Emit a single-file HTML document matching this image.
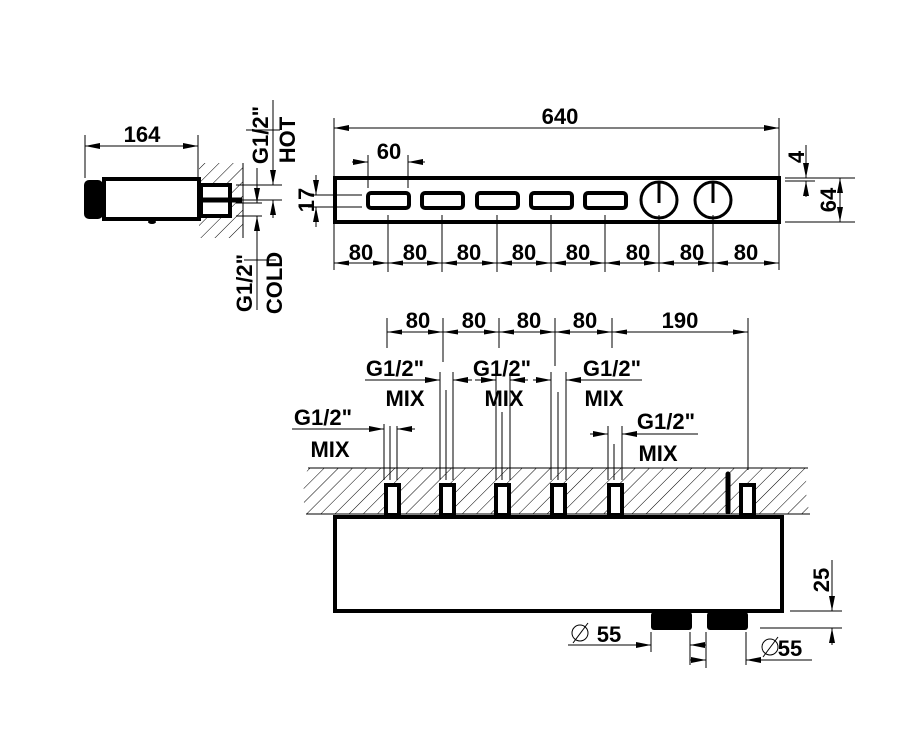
<!DOCTYPE html>
<html><head><style>html,body{margin:0;padding:0;background:#fff}svg{display:block}</style></head><body>
<svg width="913" height="741" viewBox="0 0 913 741" xmlns="http://www.w3.org/2000/svg" font-family="Liberation Sans, sans-serif" font-weight="bold">
<defs>
<pattern id="h" width="10" height="10" patternUnits="userSpaceOnUse" patternTransform="rotate(45)">
<line x1="0" y1="0" x2="0" y2="10" stroke="#000" stroke-width="1"/></pattern>
<marker id="a" viewBox="0 0 10 4" refX="10" refY="2" markerWidth="15" markerHeight="6" markerUnits="userSpaceOnUse" orient="auto-start-reverse"><path d="M0,0 L10,2 L0,4z" fill="#000"/></marker>
</defs>
<g stroke="#000" fill="none">
<!-- side view -->
<rect x="199" y="163" width="44" height="75" fill="url(#h)" stroke="none"/>
<line x1="243" y1="163" x2="243" y2="238" stroke-width="1"/>
<rect x="84" y="180" width="19" height="39" rx="5" fill="#000" stroke="none"/>
<rect x="104" y="179" width="95" height="40" stroke-width="4" fill="#fff"/>
<ellipse cx="152" cy="222" rx="4" ry="2" fill="#000" stroke="none"/>
<rect x="201" y="185" width="29" height="31" stroke-width="4" fill="#fff"/>
<line x1="201" y1="200" x2="242" y2="200" stroke-width="5"/>
<line x1="85" y1="146" x2="198" y2="146" stroke-width="1" marker-start="url(#a)" marker-end="url(#a)"/>
<line x1="85" y1="135" x2="85" y2="178" stroke-width="1"/>
<line x1="198" y1="135" x2="198" y2="178" stroke-width="1"/>
<g stroke-width="1">
<line x1="236" y1="185" x2="282" y2="185"/><line x1="236" y1="200" x2="282" y2="200"/>
<line x1="236" y1="203" x2="262" y2="203"/><line x1="236" y1="216" x2="262" y2="216"/>
<line x1="273" y1="100" x2="273" y2="185" marker-end="url(#a)"/><line x1="273" y1="218" x2="273" y2="200" marker-end="url(#a)"/>
<line x1="257" y1="168" x2="257" y2="203" marker-end="url(#a)"/><line x1="257" y1="310" x2="257" y2="216" marker-end="url(#a)"/>
</g>
<!-- front view -->
<rect x="335" y="178" width="444" height="44" stroke-width="4"/>
<g stroke-width="4">
<rect x="368" y="193" width="41" height="15" rx="3"/><rect x="422" y="193" width="41" height="15" rx="3"/>
<rect x="477" y="193" width="41" height="15" rx="3"/><rect x="531" y="193" width="41" height="15" rx="3"/>
<rect x="585" y="193" width="41" height="15" rx="3"/>
<circle cx="659" cy="200" r="18" stroke-width="3"/><circle cx="713" cy="200" r="18" stroke-width="3"/>
<line x1="659" y1="182" x2="659" y2="203" stroke-width="3"/><line x1="713" y1="182" x2="713" y2="203" stroke-width="3"/>
</g>
<g stroke-width="1">
<line x1="334" y1="118" x2="334" y2="270"/><line x1="779" y1="118" x2="779" y2="270"/>
<line x1="334" y1="128" x2="779" y2="128" marker-start="url(#a)" marker-end="url(#a)"/>
<line x1="368" y1="155" x2="368" y2="188"/><line x1="408" y1="155" x2="408" y2="188"/>
<line x1="352" y1="162" x2="368" y2="162" marker-end="url(#a)"/><line x1="425" y1="162" x2="408" y2="162" marker-end="url(#a)"/>
<line x1="308" y1="195" x2="362" y2="195"/><line x1="308" y1="207" x2="362" y2="207"/>
<line x1="316" y1="175" x2="316" y2="195" marker-end="url(#a)"/><line x1="316" y1="227" x2="316" y2="207" marker-end="url(#a)"/>
<line x1="388" y1="215" x2="388" y2="272"/><line x1="442" y1="215" x2="442" y2="272"/><line x1="497" y1="215" x2="497" y2="272"/>
<line x1="551" y1="215" x2="551" y2="272"/><line x1="605" y1="215" x2="605" y2="272"/><line x1="659" y1="215" x2="659" y2="272"/><line x1="713" y1="215" x2="713" y2="272"/>
<line x1="334" y1="263" x2="779" y2="263"/>
<line x1="785" y1="178" x2="855" y2="178"/><line x1="785" y1="222" x2="855" y2="222"/><line x1="785" y1="181" x2="815" y2="181"/>
<line x1="840" y1="178" x2="840" y2="222" marker-start="url(#a)" marker-end="url(#a)"/>
<line x1="806" y1="145" x2="806" y2="178" marker-end="url(#a)"/><line x1="806" y1="197" x2="806" y2="181" marker-end="url(#a)"/>
</g>
<g fill="#000" stroke="none">
<path d="M334,263 l15,-2.5 v5z M388,263 l-15,-2.5 v5z M388,263 l15,-2.5 v5z M442,263 l-15,-2.5 v5z M442,263 l15,-2.5 v5z M497,263 l-15,-2.5 v5z M497,263 l15,-2.5 v5z M551,263 l-15,-2.5 v5z M551,263 l15,-2.5 v5z M605,263 l-15,-2.5 v5z M605,263 l15,-2.5 v5z M659,263 l-15,-2.5 v5z M659,263 l15,-2.5 v5z M713,263 l-15,-2.5 v5z M713,263 l15,-2.5 v5z M779,263 l-15,-2.5 v5z"/>
</g>
<!-- bottom view -->
<path d="M308,468 H808 Q803,490 810,514 H306 Q300,490 308,468z" fill="url(#h)" stroke="none"/>
<line x1="308" y1="468" x2="808" y2="468" stroke-width="1"/><line x1="306" y1="514" x2="810" y2="514" stroke-width="1"/>
<g stroke-width="4" fill="#fff">
<rect x="386" y="485" width="13" height="30"/><rect x="441" y="485" width="13" height="30"/><rect x="496" y="485" width="13" height="30"/>
<rect x="552" y="485" width="13" height="30"/><rect x="609" y="485" width="13" height="30"/><rect x="741" y="485" width="13" height="30"/>
</g>
<line x1="728" y1="474" x2="728" y2="512" stroke-width="5" stroke-linecap="round"/>
<rect x="335" y="517" width="447" height="94" stroke-width="4"/>
<rect x="651" y="612" width="41" height="18" rx="3" fill="#000" stroke="none"/>
<rect x="707" y="612" width="41" height="18" rx="3" fill="#000" stroke="none"/>
<g stroke-width="1">
<line x1="387" y1="318" x2="387" y2="348"/><line x1="443" y1="318" x2="443" y2="362"/><line x1="499" y1="318" x2="499" y2="348"/>
<line x1="555" y1="318" x2="555" y2="366"/><line x1="612" y1="318" x2="612" y2="348"/><line x1="748" y1="318" x2="748" y2="470"/>
<line x1="387" y1="332" x2="748" y2="332"/>
<line x1="390" y1="426" x2="390" y2="480"/><line x1="397" y1="426" x2="397" y2="480"/>
<line x1="384" y1="424" x2="384" y2="480"/>
<line x1="440" y1="372" x2="440" y2="480"/><line x1="446" y1="390" x2="446" y2="480"/><line x1="453" y1="372" x2="453" y2="480"/>
<line x1="496" y1="375" x2="496" y2="480"/><line x1="502" y1="412" x2="502" y2="480"/><line x1="510" y1="375" x2="510" y2="480"/>
<line x1="551" y1="372" x2="551" y2="480"/><line x1="558" y1="392" x2="558" y2="480"/><line x1="566" y1="372" x2="566" y2="480"/>
<line x1="608" y1="426" x2="608" y2="480"/><line x1="614" y1="444" x2="614" y2="480"/><line x1="622" y1="426" x2="622" y2="480"/>
<line x1="292" y1="429" x2="384" y2="429" marker-end="url(#a)"/><line x1="415" y1="429" x2="397" y2="429" marker-end="url(#a)"/>
<line x1="365" y1="380" x2="440" y2="380" marker-end="url(#a)"/><line x1="472" y1="380" x2="453" y2="380" marker-end="url(#a)"/>
<line x1="475" y1="380" x2="496" y2="380" marker-end="url(#a)"/><line x1="528" y1="380" x2="510" y2="380" marker-end="url(#a)"/>
<line x1="533" y1="380" x2="551" y2="380" marker-end="url(#a)"/><line x1="642" y1="380" x2="566" y2="380" marker-end="url(#a)"/>
<line x1="590" y1="434" x2="608" y2="434" marker-end="url(#a)"/><line x1="698" y1="434" x2="622" y2="434" marker-end="url(#a)"/>
<line x1="790" y1="611" x2="842" y2="611"/><line x1="760" y1="628" x2="842" y2="628"/>
<line x1="832" y1="560" x2="832" y2="611" marker-end="url(#a)"/><line x1="832" y1="645" x2="832" y2="628" marker-end="url(#a)"/>
<line x1="651" y1="632" x2="651" y2="652"/><line x1="690" y1="632" x2="690" y2="665"/><line x1="706" y1="632" x2="706" y2="668"/><line x1="746" y1="632" x2="746" y2="665"/>
<line x1="568" y1="645" x2="651" y2="645" marker-end="url(#a)"/><line x1="706" y1="645" x2="690" y2="645" marker-end="url(#a)"/>
<line x1="690" y1="660" x2="706" y2="660" marker-end="url(#a)"/><line x1="812" y1="660" x2="746" y2="660" marker-end="url(#a)"/>
<circle cx="580" cy="633" r="8"/><line x1="573" y1="643" x2="588" y2="623"/>
<circle cx="770" cy="647" r="8"/><line x1="763" y1="657" x2="778" y2="637"/>
</g>
<g fill="#000" stroke="none">
<path d="M387,332 l15,-2.5 v5z M443,332 l-15,-2.5 v5z M443,332 l15,-2.5 v5z M499,332 l-15,-2.5 v5z M499,332 l15,-2.5 v5z M555,332 l-15,-2.5 v5z M555,332 l15,-2.5 v5z M612,332 l-15,-2.5 v5z M612,332 l15,-2.5 v5z M748,332 l-15,-2.5 v5z"/>
</g>
</g>
<g font-size="22" fill="#000" text-anchor="middle">
<text x="142" y="142">164</text>
<text x="560" y="124">640</text>
<text x="389" y="159">60</text>
<text x="361" y="260">80</text><text x="415" y="260">80</text><text x="469" y="260">80</text><text x="524" y="260">80</text>
<text x="578" y="260">80</text><text x="638" y="260">80</text><text x="692" y="260">80</text><text x="746" y="260">80</text>
<text x="418" y="328">80</text><text x="474" y="328">80</text><text x="529" y="328">80</text><text x="585" y="328">80</text><text x="680" y="328">190</text>
<text x="323" y="425">G1/2"</text><text x="330" y="457">MIX</text>
<text x="395" y="376">G1/2"</text><text x="405" y="406">MIX</text>
<text x="502" y="376">G1/2"</text><text x="504" y="406">MIX</text>
<text x="612" y="376">G1/2"</text><text x="604" y="406">MIX</text>
<text x="666" y="429">G1/2"</text><text x="658" y="461">MIX</text>
<text x="609" y="642">55</text><text x="790" y="656">55</text>
<text transform="translate(268,135) rotate(-90)">G1/2"</text><text transform="translate(295,140) rotate(-90)">HOT</text>
<text transform="translate(252,283) rotate(-90)">G1/2"</text><text transform="translate(282,283) rotate(-90)">COLD</text>
<text transform="translate(314,200) rotate(-90)">17</text>
<text transform="translate(804,157) rotate(-90)">4</text>
<text transform="translate(836,200) rotate(-90)">64</text>
<text transform="translate(829,580) rotate(-90)">25</text>
</g>
<line x1="246" y1="130" x2="280" y2="130" stroke="#000" stroke-width="1"/>
<line x1="244" y1="260" x2="276" y2="260" stroke="#000" stroke-width="1"/>
</svg>
</body></html>
